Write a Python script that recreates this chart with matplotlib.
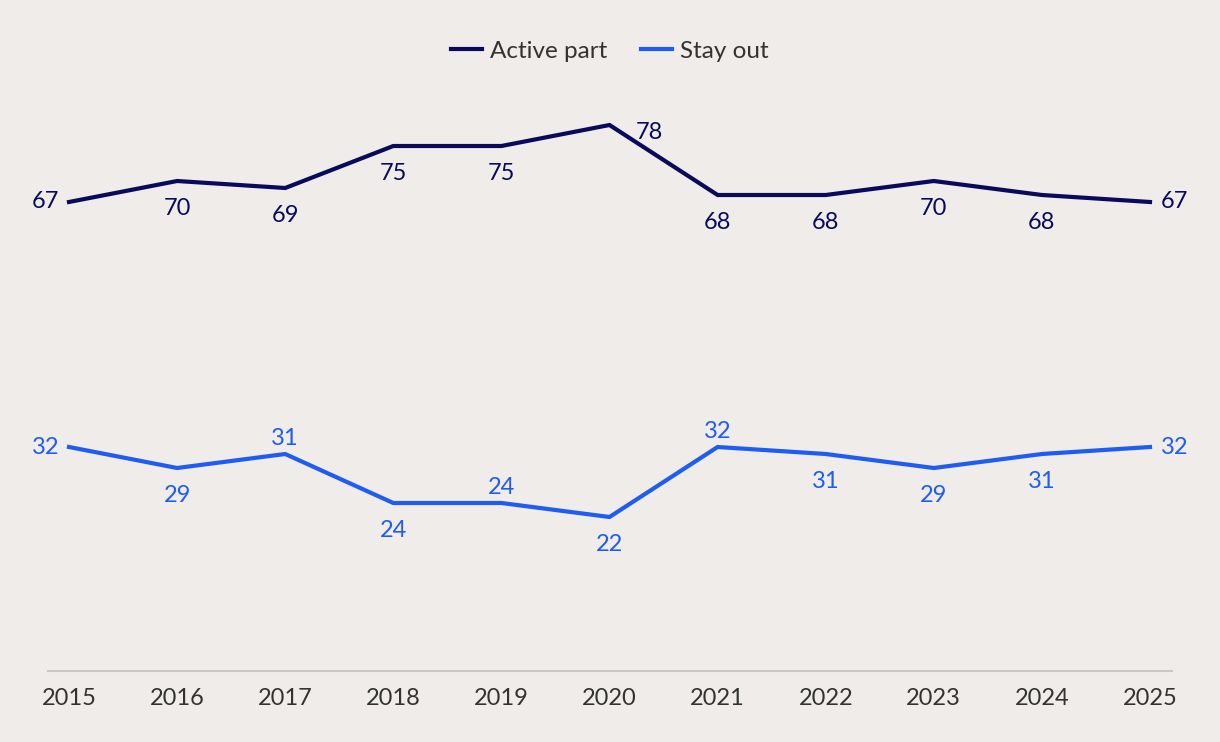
import matplotlib.pyplot as plt

# data
years = [2015, 2016, 2017, 2018, 2019, 2020, 2021, 2022, 2023, 2024, 2025]
active = [67, 70, 69, 75, 75, 78, 68, 68, 70, 68, 67]
stay_out = [32, 29, 31, 24, 24, 22, 32, 31, 29, 31, 32]
# label position per point: l=left, r=right, b=below, a=above, ar=above right
active_pos = ['l', 'b', 'b', 'b', 'b', 'ar', 'b', 'b', 'b', 'b', 'r']
stay_pos = ['l', 'b', 'a', 'b', 'a', 'b', 'a', 'b', 'b', 'b', 'r']

bg = '#efece9'
navy = '#0a0a5c'
blue = '#1f5cf2'
fs = 17

plt.rcParams['font.family'] = ['Lato', 'DejaVu Sans']

fig = plt.figure(figsize=(12.2, 7.42), dpi=100, facecolor=bg)
ax = fig.add_axes([48 / 1220, 71 / 742, (1172 - 48) / 1220, (671 - 80) / 742])
ax.set_facecolor(bg)

ax.plot(years, active, color=navy, lw=3, label='Active part', solid_joinstyle='miter')
ax.plot(years, stay_out, color=blue, lw=3, label='Stay out', solid_joinstyle='miter')


def put_labels(vals, pos, col):
    for x, v, p in zip(years, vals, pos):
        if p == 'l':
            ax.annotate(str(v), (x, v), xytext=(-7, 0), textcoords='offset points',
                        ha='right', va='center', color=col, fontsize=fs)
        elif p == 'r':
            ax.annotate(str(v), (x, v), xytext=(8, 0), textcoords='offset points',
                        ha='left', va='center', color=col, fontsize=fs)
        elif p == 'b':
            ax.annotate(str(v), (x, v), xytext=(0, -20), textcoords='offset points',
                        ha='center', va='center', color=col, fontsize=fs)
        elif p == 'a':
            ax.annotate(str(v), (x, v), xytext=(0, 11.5), textcoords='offset points',
                        ha='center', va='center', color=col, fontsize=fs)
        else:
            ax.annotate(str(v), (x, v), xytext=(19, -5.5), textcoords='offset points',
                        ha='left', va='center', color=col, fontsize=fs)


put_labels(active, active_pos, navy)
put_labels(stay_out, stay_pos, blue)

ax.set_xlim(2015 - 21 / 108.1, 2025 + 22 / 108.1)
ax.set_ylim(0, (671 - 80) / 7)
ax.set_xticks(years)
ax.set_yticks([])
for s in ['top', 'right', 'left']:
    ax.spines[s].set_visible(False)
ax.spines['bottom'].set_color('#c8c8c8')
ax.spines['bottom'].set_linewidth(1.5)
ax.tick_params(axis='x', length=0, pad=12, labelsize=fs, labelcolor='#333333')

fig.legend(loc='center', bbox_to_anchor=(0.5, 1 - 51 / 742), ncol=2, frameon=False,
           fontsize=17.5, labelcolor='#333333', handlelength=1.25, handletextpad=0.35,
           columnspacing=1.4)

fig.savefig('out.png', dpi=100, facecolor=bg)
